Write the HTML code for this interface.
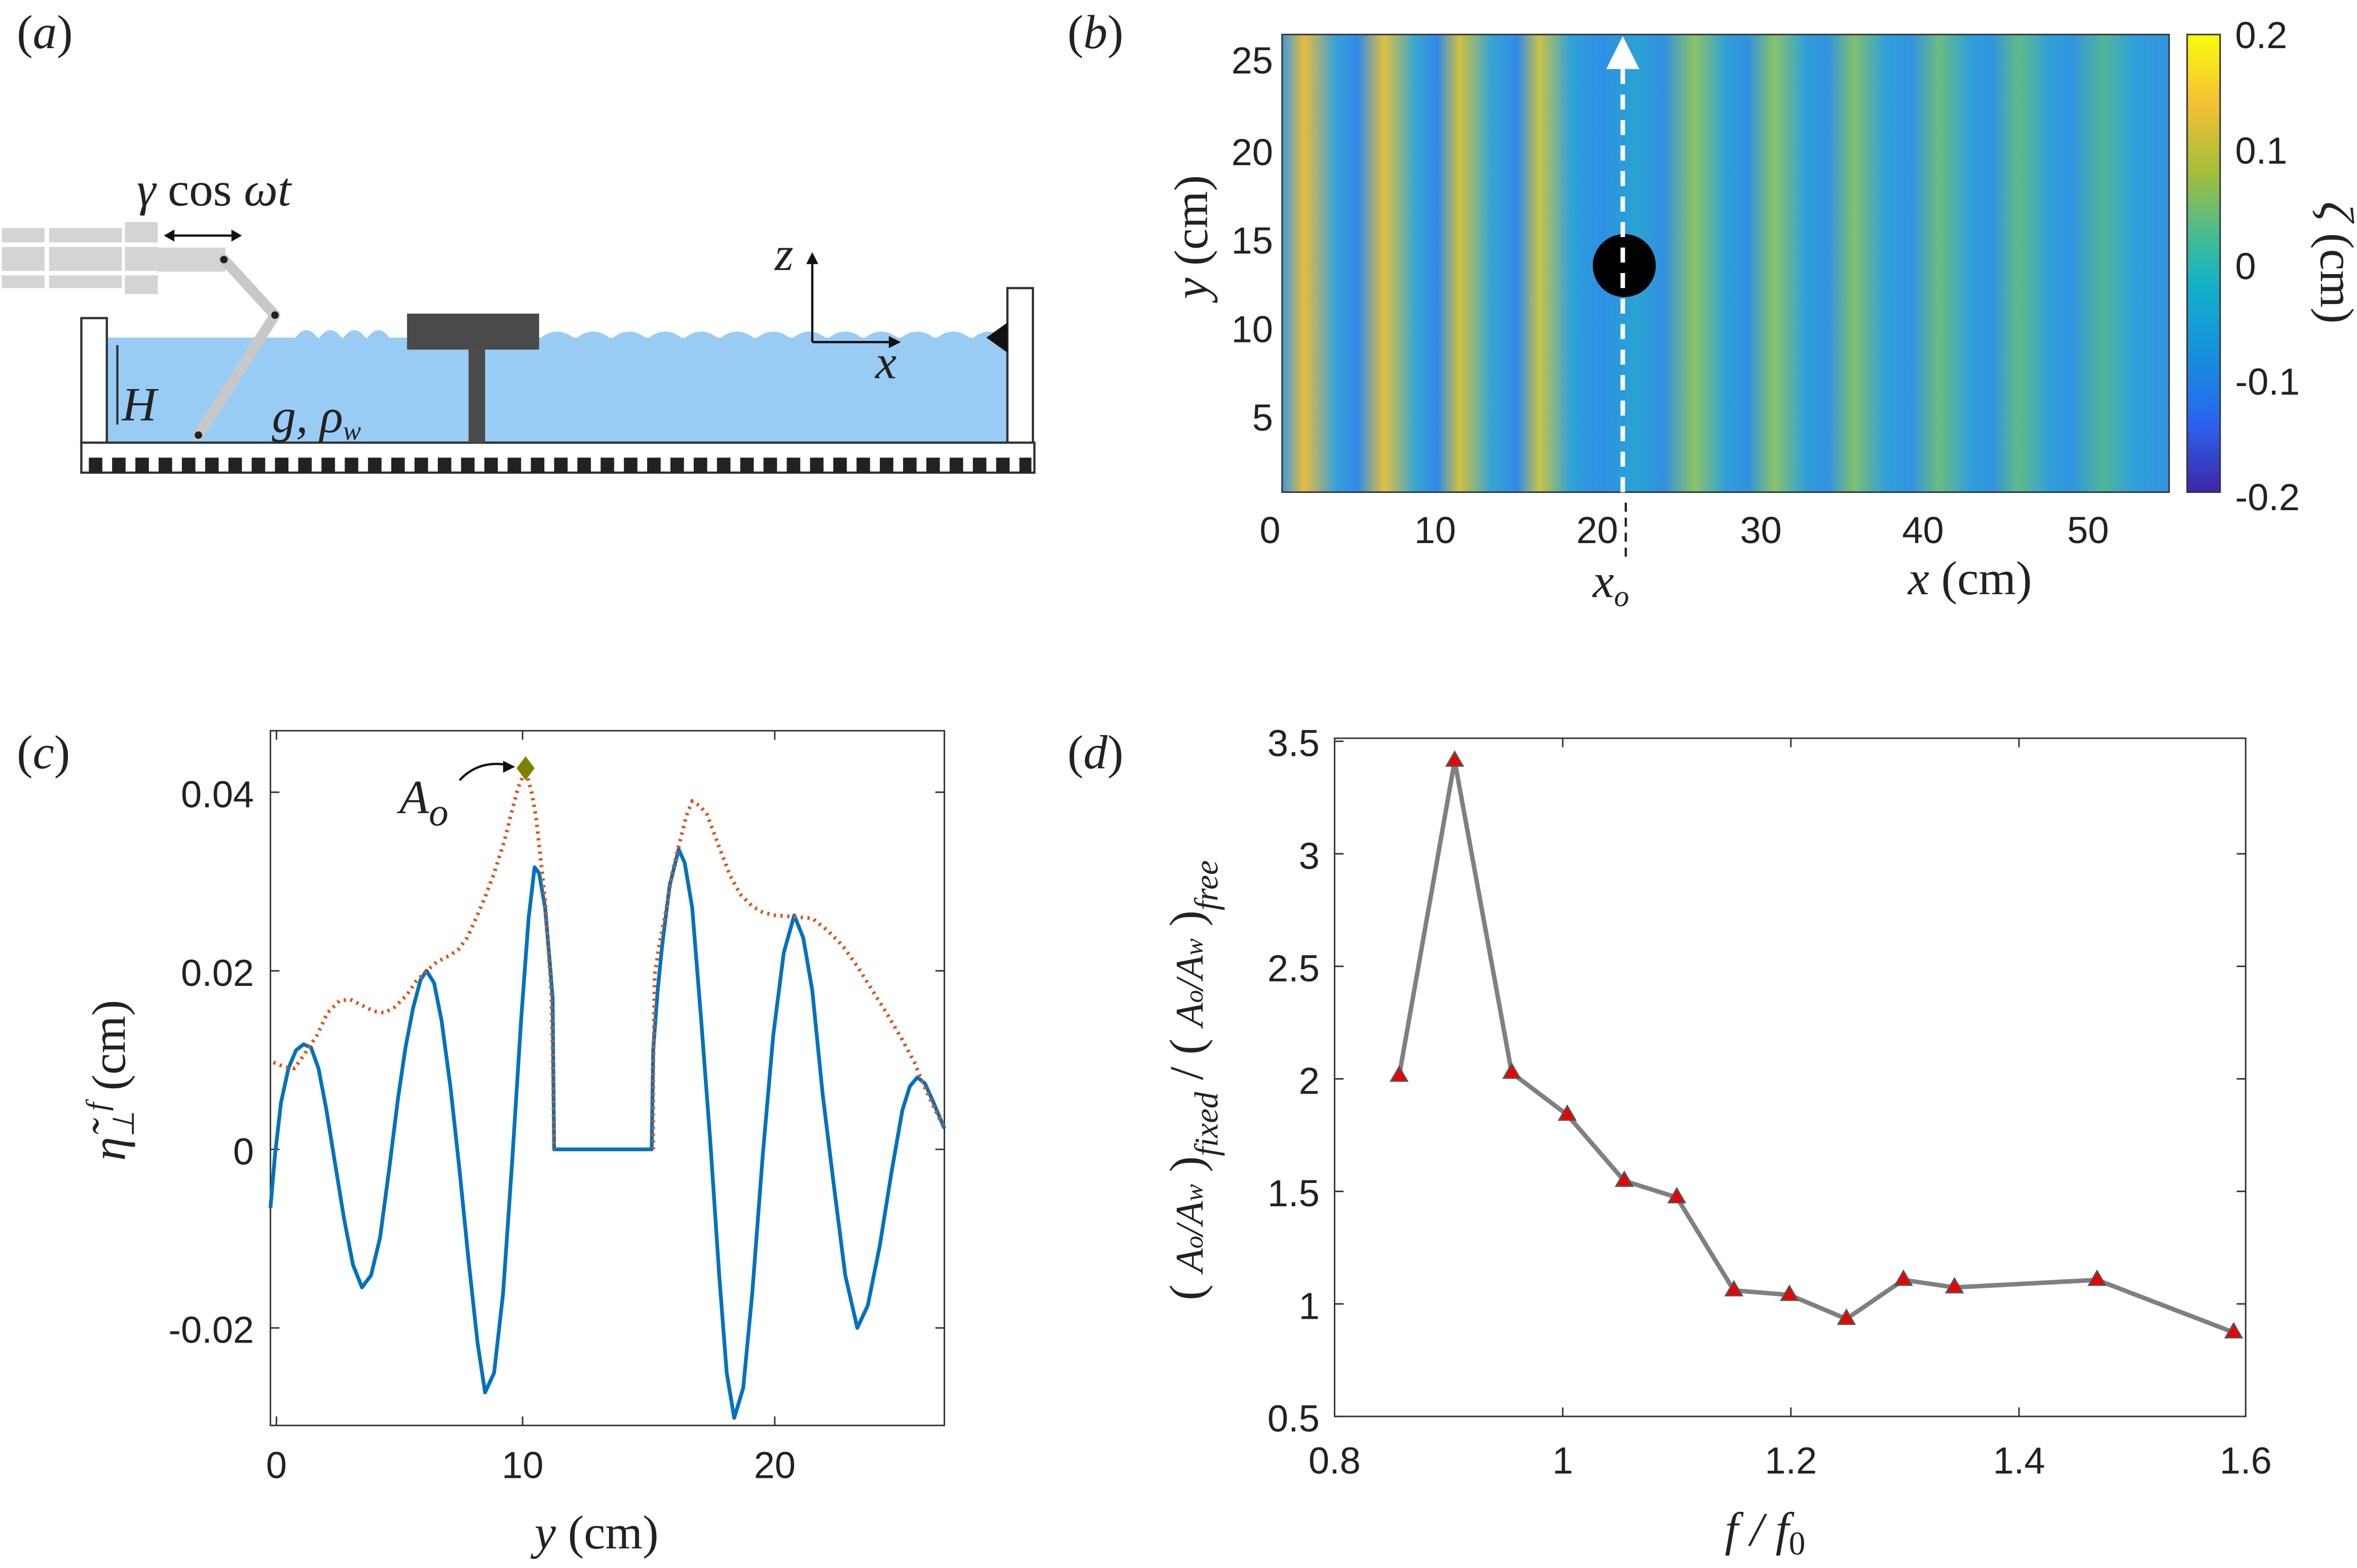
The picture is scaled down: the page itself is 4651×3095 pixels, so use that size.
<!DOCTYPE html>
<html><head><meta charset="utf-8">
<style>
html,body{margin:0;padding:0;background:#fff;}
svg{display:block;}
.t{font-family:"Liberation Sans",sans-serif;font-size:25px;fill:#222;}
.m{font-family:"Liberation Serif",serif;font-style:italic;font-size:32px;fill:#222;}
.r{font-family:"Liberation Serif",serif;font-size:32px;fill:#222;}
</style></head><body>
<svg width="4651" height="3095" viewBox="0 0 1568 1045" xmlns="http://www.w3.org/2000/svg">
<defs>
<pattern id="sqp" x="58" y="305" width="15.5" height="10" patternUnits="userSpaceOnUse"><rect x="0" y="0" width="9" height="10" fill="#222"/></pattern>
<linearGradient id="waves" x1="853" x2="1444" y1="0" y2="0" gradientUnits="userSpaceOnUse">
<stop offset="0" stop-color="#3a98e0"/>
<stop offset="0.025" stop-color="#e8bc3c"/>
<stop offset="0.06" stop-color="#3aa0d8"/>
<stop offset="0.085" stop-color="#2f8ae8"/>
<stop offset="0.115" stop-color="#e0c040"/>
<stop offset="0.15" stop-color="#38a6d0"/>
<stop offset="0.175" stop-color="#2f8ae8"/>
<stop offset="0.2" stop-color="#d0c040"/>
<stop offset="0.235" stop-color="#38a6d0"/>
<stop offset="0.265" stop-color="#2f8ae8"/>
<stop offset="0.29" stop-color="#c8c448"/>
<stop offset="0.325" stop-color="#30a2d8"/>
<stop offset="0.36" stop-color="#2c90e4"/>
<stop offset="0.4" stop-color="#2aa4d4"/>
<stop offset="0.43" stop-color="#3090e0"/>
<stop offset="0.465" stop-color="#8cc468"/>
<stop offset="0.5" stop-color="#30a0d8"/>
<stop offset="0.525" stop-color="#3090e0"/>
<stop offset="0.555" stop-color="#88c46a"/>
<stop offset="0.59" stop-color="#30a0d8"/>
<stop offset="0.615" stop-color="#3092e0"/>
<stop offset="0.645" stop-color="#80c070"/>
<stop offset="0.68" stop-color="#30a0d8"/>
<stop offset="0.71" stop-color="#3094e0"/>
<stop offset="0.74" stop-color="#6cbc80"/>
<stop offset="0.775" stop-color="#30a0d8"/>
<stop offset="0.8" stop-color="#3094e0"/>
<stop offset="0.83" stop-color="#60ba88"/>
<stop offset="0.865" stop-color="#30a0d8"/>
<stop offset="0.89" stop-color="#3094e0"/>
<stop offset="0.925" stop-color="#50b698"/>
<stop offset="0.96" stop-color="#30a0d8"/>
<stop offset="1" stop-color="#3294e0"/>
</linearGradient>
<linearGradient id="cb" x1="0" x2="0" y1="0" y2="1">
<stop offset="0" stop-color="#f9fb0e"/>
<stop offset="0.15" stop-color="#f5c035"/>
<stop offset="0.3" stop-color="#a5be3a"/>
<stop offset="0.45" stop-color="#3fbc98"/>
<stop offset="0.55" stop-color="#12b0c8"/>
<stop offset="0.7" stop-color="#1790de"/>
<stop offset="0.85" stop-color="#2a64f0"/>
<stop offset="1" stop-color="#3e26a8"/>
</linearGradient>
</defs>

<!-- Panel a -->
<text class="r" x="10" y="32">(<tspan font-style="italic">a</tspan>)</text>
<rect x="70" y="225" width="600" height="70" fill="#99ccf5"/>
<path d="M195,226 q8,-12 16,0 q8,-12 16,0 q8,-12 16,0 q8,-12 16,0 M358,226 q12,-10 24,0 q12,-10 24,0 q12,-10 24,0 q12,-10 24,0 q12,-10 24,0 q12,-10 24,0 q12,-10 24,0 q12,-10 24,0 q12,-10 24,0 q12,-10 24,0 q12,-10 24,0 q12,-10 24,0 q12,-10 24,0" fill="#99ccf5" stroke="none"/>
<rect x="53" y="212" width="17" height="83" fill="#fff" stroke="#333" stroke-width="1.5"/>
<rect x="670" y="192" width="17" height="103" fill="#fff" stroke="#333" stroke-width="1.5"/>
<path d="M670,215 l-14,10 l14,10 z" fill="#111"/>
<rect x="53" y="295" width="635" height="20" fill="#fff" stroke="#333" stroke-width="1.5"/>
<rect x="56" y="305" width="630" height="10" fill="url(#sqp)"/>
<line x1="77" y1="230" x2="77" y2="283" stroke="#333" stroke-width="1.5"/>
<text class="m" x="80" y="280">H</text>
<text class="m" x="180" y="288" font-size="26">g, ρ<tspan font-size="18" dy="5">w</tspan></text>
<rect x="270" y="209" width="88" height="24" fill="#4a4a4a"/>
<rect x="311" y="233" width="11" height="62" fill="#4a4a4a"/>
<g fill="#d4d4d4">
<rect x="0" y="152" width="80" height="40"/>
<rect x="82" y="148" width="22" height="48"/>
<rect x="104" y="165" width="45" height="16"/>
</g>
<g stroke="#fff" stroke-width="3"><line x1="0" y1="163" x2="104" y2="163"/><line x1="0" y1="182" x2="104" y2="182"/><line x1="30" y1="150" x2="30" y2="195"/></g>
<line x1="148" y1="173" x2="182" y2="210" stroke="#c8c8c8" stroke-width="7" stroke-linecap="round"/>
<line x1="182" y1="210" x2="131" y2="290" stroke="#c8c8c8" stroke-width="7" stroke-linecap="round"/>
<circle cx="148" cy="173" r="2.5" fill="#222"/><circle cx="182" cy="210" r="2.5" fill="#222"/><circle cx="131" cy="290" r="2.5" fill="#222"/>
<line x1="110" y1="157" x2="158" y2="157" stroke="#111" stroke-width="1.5"/>
<path d="M108,157 l7,-4 v8z M160,157 l-7,-4 v8z" fill="#111"/>
<text class="m" x="90" y="137" font-size="28">γ <tspan font-style="normal">cos</tspan> ωt</text>
<line x1="540" y1="228" x2="540" y2="170" stroke="#111" stroke-width="1.5"/>
<line x1="540" y1="228" x2="597" y2="228" stroke="#111" stroke-width="1.5"/>
<path d="M540,168 l-4,8 h8z M599,228 l-8,-4 v8z" fill="#111"/>
<text class="m" x="515" y="180">z</text>
<text class="m" x="582" y="252">x</text>

<!-- Panel b -->
<text class="r" x="710" y="32">(<tspan font-style="italic">b</tspan>)</text>
<rect x="853" y="23" width="591" height="305" fill="url(#waves)"/>
<rect x="853" y="23" width="591" height="305" fill="none" stroke="#333" stroke-width="1"/>
<circle cx="1081" cy="177" r="21" fill="#000"/>
<line x1="1080" y1="328" x2="1080" y2="45" stroke="#fff" stroke-width="3" stroke-dasharray="10,7"/>
<path d="M1080,24 l-11,22 h22z" fill="#fff"/>
<line x1="1082" y1="335" x2="1082" y2="372" stroke="#222" stroke-width="1.5" stroke-dasharray="6,4"/>
<g class="t" text-anchor="middle">
<text x="845" y="362">0</text><text x="955" y="362">10</text><text x="1063" y="362">20</text><text x="1172" y="362">30</text><text x="1280" y="362">40</text><text x="1390" y="362">50</text>
</g>
<g class="t" text-anchor="end">
<text x="847" y="49">25</text><text x="847" y="110">20</text><text x="847" y="169">15</text><text x="847" y="228">10</text><text x="847" y="287">5</text>
</g>
<text class="m" x="1060" y="398">x<tspan font-size="20" dy="6">o</tspan></text>
<text class="m" x="1270" y="396">x <tspan font-style="normal">(cm)</tspan></text>
<text class="m" transform="translate(803,158) rotate(-90)" text-anchor="middle">y <tspan font-style="normal">(cm)</tspan></text>
<rect x="1456" y="23" width="22" height="305" fill="url(#cb)" stroke="#333" stroke-width="1"/>
<g class="t"><text x="1488" y="32">0.2</text><text x="1488" y="109">0.1</text><text x="1488" y="186">0</text><text x="1488" y="263">-0.1</text><text x="1488" y="340">-0.2</text></g>
<text class="m" transform="translate(1545,175) rotate(90)" text-anchor="middle">ζ <tspan font-style="normal">(cm)</tspan></text>

<!-- Panel c -->
<text class="r" x="10" y="512">(<tspan font-style="italic">c</tspan>)</text>
<rect x="179" y="487" width="449" height="463" fill="none" stroke="#333" stroke-width="1"/>
<g stroke="#333" stroke-width="1">
<line x1="179" y1="528" x2="185" y2="528"/><line x1="179" y1="647" x2="185" y2="647"/><line x1="179" y1="766" x2="185" y2="766"/><line x1="179" y1="885" x2="185" y2="885"/>
<line x1="622" y1="528" x2="628" y2="528"/><line x1="622" y1="647" x2="628" y2="647"/><line x1="622" y1="766" x2="628" y2="766"/><line x1="622" y1="885" x2="628" y2="885"/>
<line x1="183" y1="950" x2="183" y2="944"/><line x1="347" y1="950" x2="347" y2="944"/><line x1="515" y1="950" x2="515" y2="944"/>
<line x1="183" y1="487" x2="183" y2="493"/><line x1="347" y1="487" x2="347" y2="493"/><line x1="515" y1="487" x2="515" y2="493"/>
</g>
<g class="t" font-size="28" text-anchor="end">
<text x="168" y="538">0.04</text><text x="168" y="657">0.02</text><text x="168" y="776">0</text><text x="168" y="895">-0.02</text>
</g>
<g class="t" font-size="28" text-anchor="middle">
<text x="183" y="985">0</text><text x="347" y="985">10</text><text x="515" y="985">20</text>
</g>
<text class="m" x="355" y="1032">y <tspan font-style="normal">(cm)</tspan></text>
<text class="m" transform="translate(82,720) rotate(-90)" text-anchor="middle">η̃<tspan font-size="20" dy="6">⊥</tspan><tspan font-size="20" dy="-18">f</tspan><tspan font-style="normal" dy="12"> (cm)</tspan></text>
<polyline fill="none" stroke="#0072bd" stroke-width="2.5" stroke-linejoin="round" points="179,805 182,770 186,735 191,712 196,700 201,696 206,698 211,712 216,738 222,775 228,812 234,843 240,858 246,850 252,825 258,780 264,732 269,698 274,672 279,653 283,647 288,655 293,680 299,725 305,780 311,840 317,895 322,928 328,915 334,862 340,775 346,680 351,612 355,578 358,582 362,605 365,640 367,665 368,766 433,766 434,700 437,660 440,630 445,590 451,566 455,575 460,605 466,680 472,760 478,850 483,915 488,945 494,925 500,862 507,770 514,690 521,635 528,610 534,625 540,660 547,730 555,795 562,850 570,885 577,870 585,830 593,780 600,740 605,724 610,718 615,722 620,733 628,752"/>
<polyline fill="none" stroke="#d95319" stroke-width="2.5" stroke-dasharray="1.5,3" points="181,708 188,711 195,712 202,702 210,690 217,675 225,667 232,666 240,670 248,674 255,675 262,671 270,663 276,654 283,647 290,641 298,637 304,633 310,625 316,612 322,598 328,582 335,560 340,540 344,525 349,513 353,528 356,545 359,572 362,600 364,630 366,660 367,700 368,766"/>
<polyline fill="none" stroke="#d95319" stroke-width="2.5" stroke-dasharray="1.5,3" points="434,766 434,720 435,650 438,630 442,610 447,580 452,560 456,544 460,534 465,537 470,543 477,562 485,583 492,596 500,604 507,608 515,610 528,611 540,612 550,620 560,630 570,644 580,660 590,676 600,693 608,708 615,725 622,740 628,752"/>
<path d="M349,504 l6,8 l-6,8 l-6,-8z" fill="#7f7f00"/>
<text class="m" x="265" y="542" font-size="38">A<tspan font-size="26" dy="8">o</tspan></text>
<path d="M305,520 Q318,506 338,510" fill="none" stroke="#111" stroke-width="1.5"/>
<path d="M342,511 l-8,-4 v8z" fill="#111"/>

<!-- Panel d -->
<text class="r" x="710" y="512">(<tspan font-style="italic">d</tspan>)</text>
<rect x="888" y="492" width="607" height="452" fill="none" stroke="#333" stroke-width="1"/>
<g stroke="#333" stroke-width="1">
<line x1="888" y1="944" x2="894" y2="944"/><line x1="888" y1="869" x2="894" y2="869"/><line x1="888" y1="794" x2="894" y2="794"/><line x1="888" y1="719" x2="894" y2="719"/><line x1="888" y1="644" x2="894" y2="644"/><line x1="888" y1="569" x2="894" y2="569"/><line x1="888" y1="494" x2="894" y2="494"/>
<line x1="1489" y1="869" x2="1495" y2="869"/><line x1="1489" y1="794" x2="1495" y2="794"/><line x1="1489" y1="719" x2="1495" y2="719"/><line x1="1489" y1="644" x2="1495" y2="644"/><line x1="1489" y1="569" x2="1495" y2="569"/>
<line x1="1040" y1="944" x2="1040" y2="938"/><line x1="1192" y1="944" x2="1192" y2="938"/><line x1="1344" y1="944" x2="1344" y2="938"/>
<line x1="1040" y1="492" x2="1040" y2="498"/><line x1="1192" y1="492" x2="1192" y2="498"/><line x1="1344" y1="492" x2="1344" y2="498"/>
</g>
<g class="t" font-size="28" text-anchor="end">
<text x="878" y="504">3.5</text><text x="878" y="579">3</text><text x="878" y="654">2.5</text><text x="878" y="729">2</text><text x="878" y="804">1.5</text><text x="878" y="879">1</text><text x="878" y="954">0.5</text>
</g>
<g class="t" font-size="28" text-anchor="middle">
<text x="888" y="982">0.8</text><text x="1040" y="982">1</text><text x="1192" y="982">1.2</text><text x="1344" y="982">1.4</text><text x="1495" y="982">1.6</text>
</g>
<polyline fill="none" stroke="#808080" stroke-width="3" points="931,717 968,507 1006,715 1043,743 1081,787 1116,798 1154,860 1191,863 1229,879 1267,853 1301,858 1396,853 1487,888"/>
<g fill="#e00" stroke="#555" stroke-width="1">
<path d="M931,711 l5.5,9.5 h-11z"/><path d="M968,501 l5.5,9.5 h-11z"/><path d="M1006,709 l5.5,9.5 h-11z"/><path d="M1043,737 l5.5,9.5 h-11z"/><path d="M1081,781 l5.5,9.5 h-11z"/><path d="M1116,792 l5.5,9.5 h-11z"/><path d="M1154,854 l5.5,9.5 h-11z"/><path d="M1191,857 l5.5,9.5 h-11z"/><path d="M1229,873 l5.5,9.5 h-11z"/><path d="M1267,847 l5.5,9.5 h-11z"/><path d="M1301,852 l5.5,9.5 h-11z"/><path d="M1396,847 l5.5,9.5 h-11z"/><path d="M1487,882 l5.5,9.5 h-11z"/>
</g>
<text class="m" x="1148" y="1030">f / f<tspan font-style="normal" font-size="22" dy="6">0</tspan></text>
<g transform="translate(800,720) rotate(-90)">
<text class="r" text-anchor="middle" font-size="40">( <tspan font-style="italic" font-size="26">A<tspan font-size="17">o</tspan>/A<tspan font-size="17">w</tspan></tspan> )<tspan font-style="italic" font-size="22" dy="10">fixed</tspan><tspan dy="-10"> / ( </tspan><tspan font-style="italic" font-size="26">A<tspan font-size="17">o</tspan>/A<tspan font-size="17">w</tspan></tspan> )<tspan font-style="italic" font-size="22" dy="10">free</tspan></text>
</g>
</svg>
</body></html>
